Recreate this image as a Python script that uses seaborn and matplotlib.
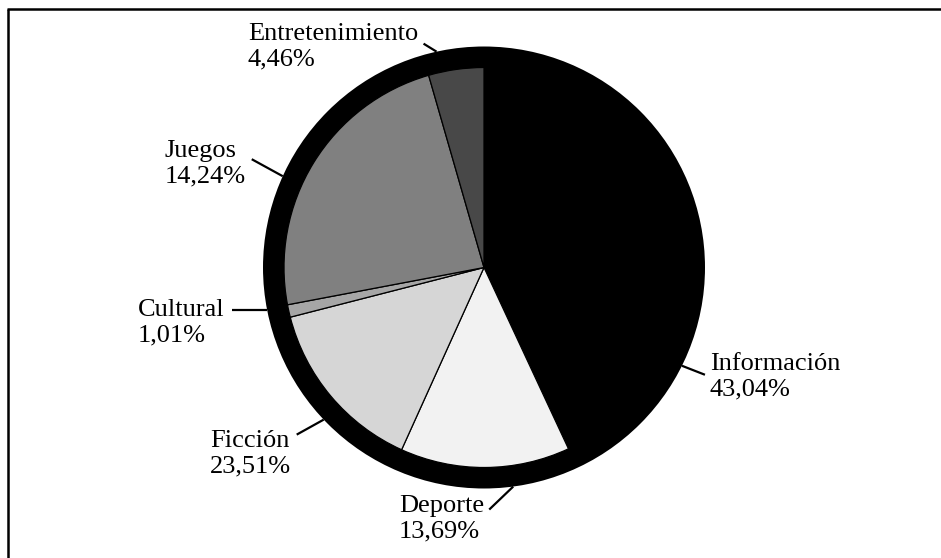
import numpy as np
import matplotlib
matplotlib.use("Agg")
import matplotlib.pyplot as plt
import seaborn as sns
from matplotlib.patches import Circle

# ---- data (as drawn in the reference) ----
categories = ["Información", "Deporte", "Ficción", "Cultural", "Juegos", "Entretenimiento"]
shares = [43.04, 13.69, 14.24, 1.01, 23.51, 4.46]          # slice sizes as drawn
label_pcts = ["43,04%", "13,69%", "23,51%", "1,01%", "14,24%", "4,46%"]  # printed labels
slice_colors = ["#000000", "#f2f2f2", "#d6d6d6", "#a6a6a6", "#808080", "#484848"]

# ---- layout (pixel-space, y measured from top) ----
W, H = 941, 558
CX, CY = 484, 267.5
R_IN, R_OUT = 200, 221
leader_angle = [-26.4, -82.4, 223.5, 191.0, 155.6, 102.4]      # attach point on ring (deg)
leader_vec = [(23, 9), (-24, 23), (-27, 15), (-35, 0), (-31, -17), (-13, -8)]
text_pos = [(710, 370), (399, 512), (210, 447), (138, 316), (165, 157), (248, 40)]
LINE_PITCH = 25.5
FS = 19

sns.set_theme(style="white")
plt.rcParams["font.family"] = ["Liberation Serif", "DejaVu Serif"]

fig = plt.figure(figsize=(W / 100, H / 100), dpi=100)
ax = fig.add_axes([0, 0, 1, 1])

def Y(py):
    return H - py

palette = sns.color_palette(slice_colors)

# outer black ring
ax.add_patch(Circle((CX, Y(CY)), R_OUT, facecolor="black", edgecolor="none", zorder=0))
ax.pie(shares, colors=palette, startangle=90, counterclock=False,
       radius=R_IN, center=(CX, Y(CY)),
       wedgeprops=dict(edgecolor="black", linewidth=0.9))

for ang, (dx, dy), (tx, ty), name, pct in zip(leader_angle, leader_vec, text_pos,
                                               categories, label_pcts):
    a = np.deg2rad(ang)
    x0 = CX + R_OUT * np.cos(a)
    y0 = Y(CY) + R_OUT * np.sin(a)
    ax.plot([x0, x0 + dx], [y0, y0 - dy], color="black", lw=1.6,
            solid_capstyle="butt", zorder=5)
    ax.text(tx, Y(ty), name, ha="left", va="baseline", fontsize=FS, color="black")
    ax.text(tx, Y(ty + LINE_PITCH), pct, ha="left", va="baseline", fontsize=FS,
            color="black")

# chart frame (top and left edges visible)
ax.plot([7.5, W], [Y(8.5), Y(8.5)], color="black", lw=1.8, solid_capstyle="butt")
ax.plot([8, 8], [Y(8.5), 0], color="black", lw=1.8, solid_capstyle="butt")

ax.set_xlim(0, W)
ax.set_ylim(0, H)
ax.set_aspect("equal")
ax.axis("off")

fig.savefig("out.png", dpi=100, facecolor="white")
